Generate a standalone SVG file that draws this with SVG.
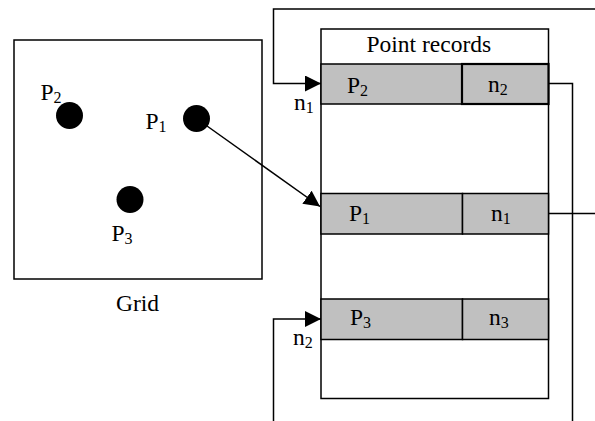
<svg xmlns="http://www.w3.org/2000/svg" width="595" height="421" viewBox="0 0 595 421">
  <style>
    .t { font-family: "Liberation Serif", "Times New Roman", serif; font-size: 23.5px; fill: #000; }
    .s { font-size: 16px; }
    .box { fill: #fff; stroke: #000; stroke-width: 1.5; }
    .cell { fill: #c0c0c0; stroke: #000; stroke-width: 1.5; }
    .cellb { fill: #c0c0c0; stroke: #000; stroke-width: 2.2; }
    .ln { fill: none; stroke: #000; stroke-width: 1.5; }
    .dot { fill: #000; }
  </style>
  <defs>
    <marker id="ah" markerWidth="16" markerHeight="16" refX="16" refY="8" orient="auto" markerUnits="userSpaceOnUse">
      <path d="M0,0 L16,8 L0,16 Z" fill="#000"/>
    </marker>
  </defs>

  <!-- grid with the three points -->
  <g id="grid">
    <rect class="box" x="14" y="40" width="248" height="239"/>
    <text class="t" x="137.5" y="311" text-anchor="middle">Grid</text>
  </g>
  <g id="p2">
    <circle class="dot" cx="69.5" cy="115.5" r="13.5"/>
    <text class="t" x="40.5" y="100">P<tspan class="s" dy="3">2</tspan></text>
  </g>
  <g id="p1">
    <circle class="dot" cx="196.5" cy="118.5" r="13.5"/>
    <text class="t" x="145.5" y="129">P<tspan class="s" dy="3">1</tspan></text>
  </g>
  <g id="p3">
    <circle class="dot" cx="130" cy="199.5" r="13.5"/>
    <text class="t" x="111.5" y="241">P<tspan class="s" dy="3">3</tspan></text>
  </g>

  <!-- table of point records -->
  <g id="records">
    <rect class="box" x="321" y="29" width="227.5" height="369.5"/>
    <text class="t" x="366.5" y="52">Point records</text>
  </g>
  <g id="rec-p2">
    <rect class="cell" x="321" y="64" width="141" height="40"/>
    <rect class="cellb" x="462" y="64" width="86.5" height="40"/>
    <text class="t" x="347" y="93">P<tspan class="s" dy="3">2</tspan></text>
    <text class="t" x="488" y="92">n<tspan class="s" dy="3">2</tspan></text>
  </g>
  <g id="rec-p1">
    <rect class="cell" x="321" y="193.5" width="141.5" height="40.5"/>
    <rect class="cell" x="462.5" y="193.5" width="86" height="40.5"/>
    <text class="t" x="349" y="221">P<tspan class="s" dy="3">1</tspan></text>
    <text class="t" x="491" y="221">n<tspan class="s" dy="3">1</tspan></text>
  </g>
  <g id="rec-p3">
    <rect class="cell" x="321" y="299" width="141.5" height="40.5"/>
    <rect class="cell" x="462.5" y="299" width="86" height="40.5"/>
    <text class="t" x="350" y="325">P<tspan class="s" dy="3">3</tspan></text>
    <text class="t" x="489" y="325">n<tspan class="s" dy="3">3</tspan></text>
  </g>
  <g id="labels">
    <text class="t" x="294" y="110">n<tspan class="s" dy="3">1</tspan></text>
    <text class="t" x="293" y="345">n<tspan class="s" dy="3">2</tspan></text>
  </g>

  <!-- links -->
  <g id="connectors">
    <line class="ln" x1="196.5" y1="118.5" x2="320" y2="206.5" marker-end="url(#ah)"/>
    <polyline class="ln" points="596,9 273.5,9 273.5,83.5 321,83.5" marker-end="url(#ah)"/>
    <polyline class="ln" points="273.5,422 273.5,319 321,319" marker-end="url(#ah)"/>
    <polyline class="ln" points="548.5,83.5 572.5,83.5 572.5,422"/>
    <line class="ln" x1="548.5" y1="213.5" x2="596" y2="213.5"/>
  </g>
</svg>
